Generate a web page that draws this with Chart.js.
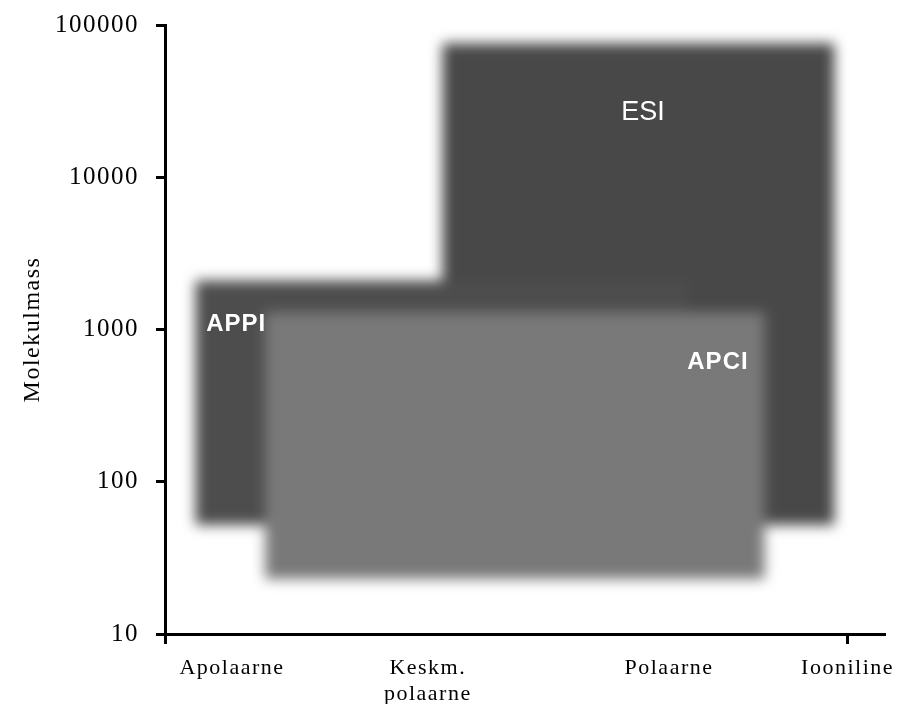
<!DOCTYPE html>
<html><head><meta charset="utf-8">
<script src="https://cdn.jsdelivr.net/npm/chart.js@4/dist/chart.umd.min.js"></script>
<style>html,body{margin:0;padding:0;background:#fff}#wrap{width:898px;height:704px}</style>
</head><body><div id="wrap"><canvas id="c" width="898" height="704"></canvas></div>
<script>
// x axis categories (polarity) and their positions on a 0..10 polarity scale
const categories = ['Apolaarne', ['Keskm.', 'polaarne'], 'Polaarne', 'Iooniline'];
const categoryPos = [0.93, 3.65, 7.0, 9.48];
// y axis ticks (molecular mass, log)
const yTicks = [10, 100, 1000, 10000, 100000];
// ionisation technique ranges
const techniques = ['APCI', 'APPI', 'ESI'];
const polarityFrom = [1.39, 0.42, 3.85];
const polarityTo = [8.33, 7.25, 9.3];
const massFrom = [23, 52, 52];
const massTo = [1300, 2100, 76000];
const labelPolarity = [7.68, 0.99, 6.64];
const labelMass = [610, 1080, 26500];
const fillColors = ['#797979', '#4d4d4d', '#484848'];

const datasets = techniques.map((t, i) => ({
  label: t,
  data: [{x: polarityFrom[i], y: massTo[i]}, {x: polarityTo[i], y: massTo[i]}],
  fill: {value: massFrom[i]},
  backgroundColor: fillColors[i],
  borderWidth: 0,
  pointRadius: 0,
  clip: false
}));

const spacingPlugin = {
  id: 'spacing',
  beforeDraw(chart) { chart.ctx.letterSpacing = '1.5px'; },
  afterDraw(chart) { chart.ctx.letterSpacing = '0px'; }
};

const blurPlugin = {
  id: 'blurBoxes',
  afterDatasetsDraw(chart) {
    const ctx = chart.ctx;
    const ca = chart.chartArea;
    // soften the drawn range boxes: copy the plot interior and redraw it blurred
    const x0 = Math.ceil(ca.left + 2), y0 = 0;
    const w = chart.width - x0, h = Math.floor(ca.bottom - 2) - y0;
    const off = document.createElement('canvas');
    off.width = w; off.height = h;
    off.getContext('2d').drawImage(chart.canvas, x0, y0, w, h, 0, 0, w, h);
    ctx.save();
    ctx.setTransform(1, 0, 0, 1, 0, 0);
    ctx.clearRect(x0, y0, w, h);
    ctx.filter = 'blur(6.5px)';
    ctx.drawImage(off, x0, y0);
    ctx.restore();

    const xs = chart.scales.x, ys = chart.scales.y;
    ctx.save();
    ctx.fillStyle = '#ffffff';
    ctx.textAlign = 'center';
    ctx.textBaseline = 'middle';
    techniques.forEach((t, i) => {
      if (t === 'ESI') { ctx.font = '27px "Liberation Sans"'; ctx.letterSpacing = '0px'; }
      else { ctx.font = 'bold 24px "Liberation Sans"'; ctx.letterSpacing = '1px'; }
      ctx.fillText(t, xs.getPixelForValue(labelPolarity[i]), ys.getPixelForValue(labelMass[i]));
    });
    ctx.restore();
  }
};

new Chart(document.getElementById('c'), {
  type: 'line',
  data: {datasets},
  options: {
    responsive: false,
    animation: false,
    devicePixelRatio: 1,
    layout: {padding: {top: 25, right: 13, left: 0, bottom: 0}},
    plugins: {legend: {display: false}, tooltip: {enabled: false}},
    scales: {
      x: {
        type: 'linear', min: 0, max: 10,
        afterBuildTicks(s) { s.ticks = [0].concat(categoryPos).map(v => ({value: v})); },
        afterFit(s) { s.height = 70; s.paddingLeft = 0; s.paddingRight = 0; },
        ticks: {
          autoSkip: false, maxRotation: 0, padding: 11, color: '#000',
          font: {family: '"Liberation Serif"', size: 22, lineHeight: 1.2},
          callback(v) { const k = categoryPos.indexOf(v); return k < 0 ? '' : categories[k]; }
        },
        grid: {
          drawOnChartArea: false, tickLength: 10, tickWidth: 3,
          tickColor: ctx => (ctx.index === 0 || ctx.index === 4) ? '#000' : 'rgba(0,0,0,0)'
        },
        border: {display: true, color: '#000', width: 3}
      },
      y: {
        type: 'logarithmic', min: 10, max: 100000,
        afterBuildTicks(s) { s.ticks = yTicks.map(v => ({value: v})); },
        afterFit(s) { s.width = 165; s.paddingTop = 0; s.paddingBottom = 0; },
        ticks: {
          padding: 17, color: '#000',
          font: {family: '"Liberation Serif"', size: 25},
          callback(v) { return String(v); }
        },
        grid: {drawOnChartArea: false, tickLength: 9, tickWidth: 3, tickColor: '#000'},
        border: {display: true, color: '#000', width: 3},
        title: {display: true, text: 'Molekulmass', color: '#000', padding: {top: 18, bottom: 0},
          font: {family: '"Liberation Serif"', size: 24}}
      }
    }
  },
  plugins: [spacingPlugin, blurPlugin]
});
</script></body></html>
